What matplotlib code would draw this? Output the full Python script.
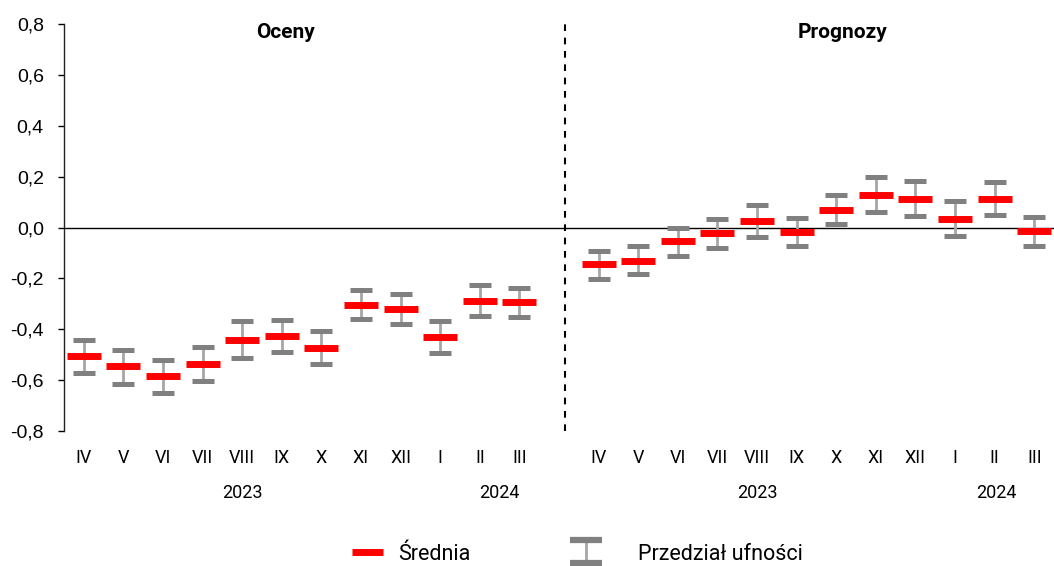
import numpy as np
import matplotlib
matplotlib.use('Agg')
import matplotlib.pyplot as plt
from matplotlib.lines import Line2D
from matplotlib.collections import LineCollection
from matplotlib.ticker import FuncFormatter
from matplotlib.legend_handler import HandlerErrorbar
from matplotlib.container import ErrorbarContainer

plt.rcParams['font.family'] = ['Roboto', 'DejaVu Sans']
plt.rcParams['axes.unicode_minus'] = False

months = ['IV', 'V', 'VI', 'VII', 'VIII', 'IX', 'X', 'XI', 'XII', 'I', 'II', 'III']

# Oceny (estimates)
est_mean = [-0.504, -0.544, -0.583, -0.536, -0.441, -0.426, -0.473, -0.304, -0.320, -0.430, -0.288, -0.292]
est_low = [-0.571, -0.615, -0.650, -0.603, -0.512, -0.489, -0.536, -0.359, -0.379, -0.493, -0.347, -0.351]
est_high = [-0.441, -0.481, -0.520, -0.469, -0.367, -0.363, -0.406, -0.245, -0.261, -0.367, -0.225, -0.237]

# Prognozy (forecasts)
fc_mean = [-0.143, -0.131, -0.052, -0.021, 0.026, -0.017, 0.070, 0.128, 0.113, 0.034, 0.113, -0.013]
fc_low = [-0.202, -0.182, -0.111, -0.080, -0.037, -0.072, 0.015, 0.062, 0.046, -0.033, 0.050, -0.072]
fc_high = [-0.092, -0.072, -0.001, 0.034, 0.089, 0.038, 0.128, 0.199, 0.184, 0.105, 0.180, 0.042]

RED = '#FF0000'
CAP = '#808080'
BAR = '#A6A6A6'

fig = plt.figure(figsize=(10.54, 5.66), dpi=100)
ax = fig.add_axes([64 / 1054, 1 - 431 / 566, 990 / 1054, 407 / 566])

x_est = np.arange(12)
x_fc = np.arange(13, 25)


def draw_group(x, mean, low, high):
    mean = np.array(mean)
    yerr = [mean - np.array(low), np.array(high) - mean]
    eb = ax.errorbar(x, mean, yerr=yerr, fmt='none', ecolor=BAR, elinewidth=2,
                     capsize=8, capthick=3.6, zorder=3)
    for cl in eb[1]:
        cl.set_color(CAP)
        cl.set_markeredgecolor(CAP)
        cl.set_zorder(4)
    ax.plot(x, mean, ls='none', marker='_', ms=24, mew=5, color=RED, zorder=5)


draw_group(x_est, est_mean, est_low, est_high)
draw_group(x_fc, fc_mean, fc_low, fc_high)

ax.axhline(0, color='black', lw=1, zorder=2)
ax.axvline(12.15, color='black', lw=1.5, linestyle=(0, (3.2, 3.2)), zorder=2)

ax.set_xlim(-0.5, 24.5)
ax.set_ylim(-0.8, 0.8)
ax.set_yticks(np.arange(-0.8, 0.81, 0.2))
ax.yaxis.set_major_formatter(FuncFormatter(lambda v, p: f'{v:.1f}'.replace('.', ',').replace('-0,0', '0,0')))
for lab in ax.get_yticklabels():
    lab.set_fontfamily('Liberation Sans')
ax.tick_params(axis='y', labelsize=14, length=4.5, width=1, pad=10)

ax.set_xticks(np.concatenate([x_est, x_fc]))
ax.set_xticklabels(months + months)
ax.tick_params(axis='x', labelsize=13, length=0, pad=13)

for side in ['top', 'right', 'bottom']:
    ax.spines[side].set_visible(False)
ax.spines['left'].set_linewidth(1)
ax.spines['left'].set_color('#222222')

trans = ax.get_xaxis_transform()
for xp, yr in [(4, '2023'), (10.5, '2024'), (17, '2023'), (23.05, '2024')]:
    ax.text(xp, -0.152, yr, transform=trans, ha='center', va='center', fontsize=13)

ax.text(5.1, 0.98, 'Oceny', transform=trans, ha='center', va='center', fontsize=15, fontweight='bold')
ax.text(19.15, 0.98, 'Prognozy', transform=trans, ha='center', va='center', fontsize=15, fontweight='bold')

# legend
mean_handle = Line2D([], [], color=RED, lw=5, solid_capstyle='butt')
leg1 = fig.legend([mean_handle], ['Średnia'], loc='center left',
                  bbox_to_anchor=(352 / 1054, 1 - 554 / 566), frameon=False,
                  fontsize=15.5, handlelength=1.44, handletextpad=0.7,
                  borderpad=0, borderaxespad=0)

cap_proxy = Line2D([], [], ls='none', marker='_', ms=23, mew=4.5,
                   color=CAP, mec=CAP)
bar_proxy = LineCollection([], colors=BAR, linewidths=2)
ci_handle = ErrorbarContainer((None, (cap_proxy, cap_proxy), (bar_proxy,)),
                              has_xerr=False, has_yerr=True)
leg2 = fig.legend([ci_handle], ['Przedział ufności'], loc='center left',
                  bbox_to_anchor=(570 / 1054, 1 - 554 / 566), frameon=False,
                  fontsize=15.5, handlelength=1.49, handletextpad=1.68,
                  borderpad=0, borderaxespad=0,
                  handler_map={ErrorbarContainer: HandlerErrorbar(yerr_size=0.535)})

fig.savefig('out.png', dpi=100)
